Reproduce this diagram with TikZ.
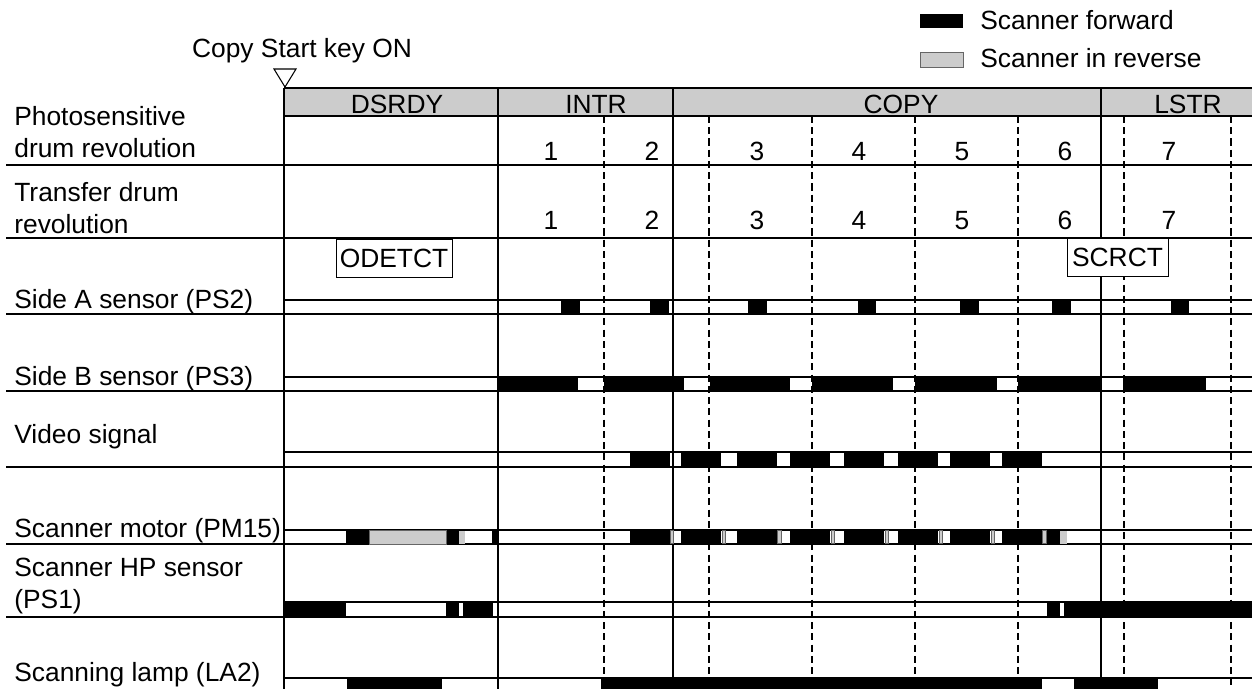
\documentclass[tikz,border=0pt]{standalone}
\usepackage{fontspec}
\setmainfont{Liberation Sans}

\begin{document}
\begin{tikzpicture}[
  x=0.2mm, y=-0.2mm,
  font=\fontsize{15}{18}\selectfont,
  lbl/.style={anchor=base west, align=left, inner sep=0pt},
  num/.style={anchor=base, inner sep=0pt},
  tag/.style={draw, fill=white, line width=0.5pt, inner sep=0pt,
              minimum height=7.6mm},
  sep/.style={line width=0.85pt},
  dsh/.style={line width=0.75pt, dash pattern=on 4pt off 2.4pt},
  thin/.style={fill=black!20, draw=black!60, line width=0.4pt}
]
\useasboundingbox (0,0) rectangle (1252,689);

% Legend
\node[fill=black, inner sep=0pt, minimum width=8.6mm, minimum height=2.8mm]
  (keyfwd) at (941.5,21) {};
\node[anchor=base west, inner sep=0pt] (fwd) at (980,29) {Scanner forward};
\node[thin, inner sep=0pt, minimum width=8.6mm, minimum height=3mm]
  (keyrev) at (941.5,59.5) {};
\node[anchor=base west, inner sep=0pt] (rev) at (980,67) {Scanner in reverse};

% Start marker
\node[num] (key) at (302,57) {Copy Start key ON};
\draw[line width=0.6pt] (274,69) -- (296,69) -- (285,87) -- cycle;

% Header
\fill[black!20] (284,88) rectangle (1252,116);
\draw[line width=1.2pt] (284,88) -- (1252,88);
\draw[sep] (284,116) -- (1252,116);
\node[num] (dsrdy) at (397,113) {DSRDY};
\node[num] (intr) at (596,113) {INTR};
\node[num] (copy) at (901,113) {COPY};
\node[num] (lstr) at (1188,113) {LSTR};

% Grid
\foreach \x in {604,709,812,915,1018,1124,1231}
  \draw[dsh] (\x,116) -- (\x,689);
\foreach \x in {284,498,673,1101}
  \draw[sep] (\x,88) -- (\x,689);
\foreach \y in {165,238,314,391,467,544,617}
  \draw[sep] (6,\y) -- (1252,\y);
\foreach \y in {300,377,452,530,602,678}
  \draw[sep] (284,\y) -- (1252,\y);

% Row labels (base = last line)
\node[lbl] (photo) at (14,157) {Photosensitive\\drum revolution};
\node[lbl] (trans) at (14,233) {Transfer drum\\revolution};
\node[lbl] (sidea) at (14,308) {Side A sensor (PS2)};
\node[lbl] (sideb) at (14,385) {Side B sensor (PS3)};
\node[lbl] (video) at (14,443) {Video signal};
\node[lbl] (motor) at (14,537) {Scanner motor (PM15)};
\node[lbl] (hpsen) at (14,608) {Scanner HP sensor\\(PS1)};
\node[lbl] (lamp) at (14,681) {Scanning lamp (LA2)};

% Revolution counts
\foreach \n/\x in {1/551,2/652,3/757,4/859,5/962,6/1065,7/1169} {
  \node[num] (p\n) at (\x,160) {\n};
  \node[num] (t\n) at (\x,229) {\n};
}

% Timing boxes
\node[tag, minimum width=23.2mm] (odetct) at (394,258) {ODETCT};
\node[tag, minimum width=20.2mm] (scrct) at (1117.5,257.5) {SCRCT};

% Side A sensor
\foreach \a/\b in {561/580,650/669,748/767,858/876,960/979,1052/1071,1171/1189}
  \fill (\a,300) rectangle (\b,314);
% Side B sensor
\foreach \a/\b in {498/578,604/684,710/790,812/893,915/997,1018/1101,1123/1206}
  \fill (\a,377) rectangle (\b,391);
% Video signal
\foreach \a/\b in {630/670,681/721,737/777,790/830,844/884,898/938,950/990,1002/1042}
  \fill (\a,452) rectangle (\b,467);
% Scanner motor
\foreach \a/\b in {346/369,446/459,492/499,630/670,681/721,737/777,790/830,
                   844/884,898/938,950/990,1002/1042,1046/1060}
  \fill (\a,530) rectangle (\b,544);
\draw[thin] (369,530) rectangle (446,544);
\foreach \a/\b in {670/673,722/725,777/781,831/834,885/888,939/942,991/994,1042/1046}
  \draw[thin] (\a,530.5) rectangle (\b,543.5);
\foreach \a/\b in {459/465,1060/1067}
  \fill[black!20] (\a,530.5) rectangle (\b,543.5);
% Scanner HP sensor
\foreach \a/\b in {284/346,446/459,463/493,1047/1060,1064/1252}
  \fill (\a,602) rectangle (\b,617);
% Scanning lamp
\foreach \a/\b in {347/442,601/1042,1074/1158}
  \fill (\a,678) rectangle (\b,689);
\end{tikzpicture}
\end{document}
